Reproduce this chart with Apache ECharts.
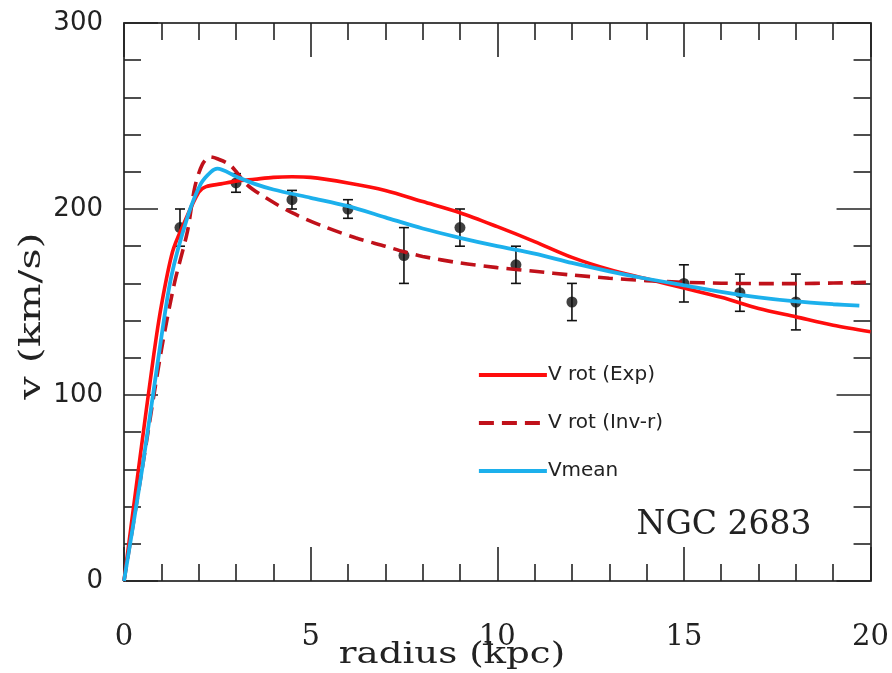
<!DOCTYPE html>
<html>
<head>
<meta charset="utf-8">
<script src="https://cdn.jsdelivr.net/npm/echarts@6/dist/echarts.min.js"></script>
<style>
html,body{margin:0;padding:0;background:#fff;}
#chart{width:892px;height:673px;}
</style>
</head>
<body>
<div id="chart"></div>
<script>
// Observed points
const radiusObs = [1.5, 3, 4.5, 6, 7.5, 9, 10.5, 12, 15, 16.5, 18];
const vObs      = [190, 214, 205, 200, 175, 190, 170, 150, 160, 155, 150];
const vErr      = [10, 5, 5, 5, 15, 10, 10, 10, 10, 10, 15];

// V rot (Exp)
const expR = [0, 0.4, 0.8, 1.0, 1.3, 1.6, 2.0, 2.2, 2.6, 3.0, 3.5, 4.0, 4.5, 5, 6, 7, 8, 9, 10, 11, 12, 13, 14, 15, 16, 17, 18, 19, 20];
const expV = [0, 62, 122, 148, 177, 192, 209, 212, 213.5, 215, 216, 217, 217.3, 217, 214, 210, 204, 198, 190.5, 182.5, 174, 167.5, 162.5, 157.5, 152.5, 146.5, 142, 137.5, 134];

// V rot (Inv-r)
const invR = [0, 0.5, 1.0, 1.35, 1.7, 1.9, 2.1, 2.3, 2.5, 2.85, 3.3, 3.8, 4.5, 5.3, 6.2, 7, 7.5, 8, 9, 10, 11, 12, 13, 14, 15, 16, 17, 18, 19, 20];
const invV = [0, 62, 124, 160, 188, 212, 224, 228, 227, 223.5, 213, 206, 198, 191, 184.5, 180, 177, 174.5, 171, 168.5, 166.5, 164.5, 162.8, 161.5, 160.6, 160.1, 159.9, 159.9, 160.2, 160.6];

// Vmean
const meanR = [0, 0.5, 0.95, 1.26, 1.7, 2.06, 2.33, 2.5, 3, 3.5, 4, 5, 6, 7, 8, 9, 10, 11, 12, 13, 14, 15, 16, 17, 18, 19, 19.7];
const meanV = [0, 62, 124, 163, 195.6, 213.6, 220, 221.7, 217.5, 213.5, 210.5, 206, 201.5, 195.5, 189.5, 184.5, 180, 176, 171, 166.5, 162.5, 159, 155.5, 152.5, 150.3, 148.8, 148];

// Axis ticks
const xTicks = [0, 5, 10, 15, 20];
const yTicks = [0, 100, 200, 300];

const zip = (a, b) => a.map((v, i) => [v, b[i]]);

const chart = echarts.init(document.getElementById('chart'), null, {renderer: 'canvas'});

const frameColor = '#444';
const baseAxis = {
  type: 'value',
  axisLine: {show: true, onZero: false, lineStyle: {color: frameColor, width: 2}},
  axisTick: {show: true, inside: true, length: 34, lineStyle: {color: '#222', width: 1.6}},
  minorTick: {show: true, splitNumber: 5, length: 17, lineStyle: {color: '#222', width: 1.6}},
  splitLine: {show: false},
  minorSplitLine: {show: false}
};

const option = {
  backgroundColor: '#fff',
  animation: false,
  grid: {left: 124, right: 20, top: 23, bottom: 92, containLabel: false},
  xAxis: [
    Object.assign({}, baseAxis, {
      position: 'bottom', min: xTicks[0], max: xTicks[xTicks.length - 1], interval: 5,
      axisLabel: {show: true, margin: 42, fontFamily: 'DejaVu Serif', fontSize: 29, color: '#222'}
    }),
    Object.assign({}, baseAxis, {
      position: 'top', min: xTicks[0], max: xTicks[xTicks.length - 1], interval: 5,
      axisLabel: {show: false}
    })
  ],
  yAxis: [
    Object.assign({}, baseAxis, {
      position: 'left', min: yTicks[0], max: yTicks[yTicks.length - 1], interval: 100,
      axisLabel: {show: true, margin: 21, fontFamily: 'DejaVu Sans', fontSize: 26, color: '#222'}
    }),
    Object.assign({}, baseAxis, {
      position: 'right', min: yTicks[0], max: yTicks[yTicks.length - 1], interval: 100,
      axisLabel: {show: false}
    })
  ],
  legend: {
    orient: 'vertical',
    left: 472,
    top: 360,
    itemWidth: 68,
    itemHeight: 20,
    itemGap: 28,
    data: ['V rot (Exp)', 'V rot (Inv-r)', 'Vmean'],
    itemStyle: {opacity: 0},
    lineStyle: {width: 3.8},
    textStyle: {fontFamily: 'DejaVu Sans', fontSize: 20, color: '#222', lineHeight: 20, padding: [0, 0, 0, -4]}
  },
  graphic: [
    {type: 'text', x: 452, y: 655, scaleX: 1.28, style: {text: 'radius (kpc)', font: '29px "DejaVu Serif"', fill: '#222', textAlign: 'center', textVerticalAlign: 'middle'}},
    {type: 'text', x: 32, y: 316, rotation: Math.PI / 2, scaleX: 1.37, style: {text: 'v (km/s)', font: '30px "DejaVu Serif"', fill: '#222', textAlign: 'center', textVerticalAlign: 'middle'}},
    {type: 'text', x: 724, y: 525, style: {text: 'NGC 2683', font: '33px "DejaVu Serif"', fill: '#222', textAlign: 'center', textVerticalAlign: 'middle'}}
  ],
  series: [
    {
      name: 'errors',
      type: 'custom',
      z: 2,
      data: radiusObs.map((r, i) => [r, vObs[i] - vErr[i], vObs[i] + vErr[i]]),
      encode: {x: 0, y: [1, 2]},
      renderItem: function (params, api) {
        const x = api.value(0);
        const top = api.coord([x, api.value(2)]);
        const bot = api.coord([x, api.value(1)]);
        const c = 5;
        const st = {stroke: '#111', lineWidth: 1.6};
        return {
          type: 'group',
          children: [
            {type: 'line', shape: {x1: top[0], y1: top[1], x2: bot[0], y2: bot[1]}, style: st},
            {type: 'line', shape: {x1: top[0] - c, y1: top[1], x2: top[0] + c, y2: top[1]}, style: st},
            {type: 'line', shape: {x1: bot[0] - c, y1: bot[1], x2: bot[0] + c, y2: bot[1]}, style: st}
          ]
        };
      }
    },
    {
      name: 'points',
      type: 'scatter',
      z: 3,
      symbol: 'circle',
      symbolSize: 11,
      itemStyle: {color: '#111'},
      data: zip(radiusObs, vObs)
    },
    {
      name: 'V rot (Exp)',
      type: 'line',
      z: 4,
      smooth: 0.3,
      symbol: 'none',
      lineStyle: {color: '#ff0d0d', width: 3.6},
      itemStyle: {color: '#ff0d0d'},
      data: zip(expR, expV)
    },
    {
      name: 'V rot (Inv-r)',
      type: 'line',
      z: 5,
      smooth: 0.3,
      symbol: 'none',
      lineStyle: {color: '#c0111a', width: 3.6, type: [15, 8]},
      itemStyle: {color: '#c0111a'},
      data: zip(invR, invV)
    },
    {
      name: 'Vmean',
      type: 'line',
      z: 6,
      smooth: 0.3,
      symbol: 'none',
      lineStyle: {color: '#1cb0ec', width: 3.8},
      itemStyle: {color: '#1cb0ec'},
      data: zip(meanR, meanV)
    }
  ]
};

chart.setOption(option);
</script>
</body>
</html>
